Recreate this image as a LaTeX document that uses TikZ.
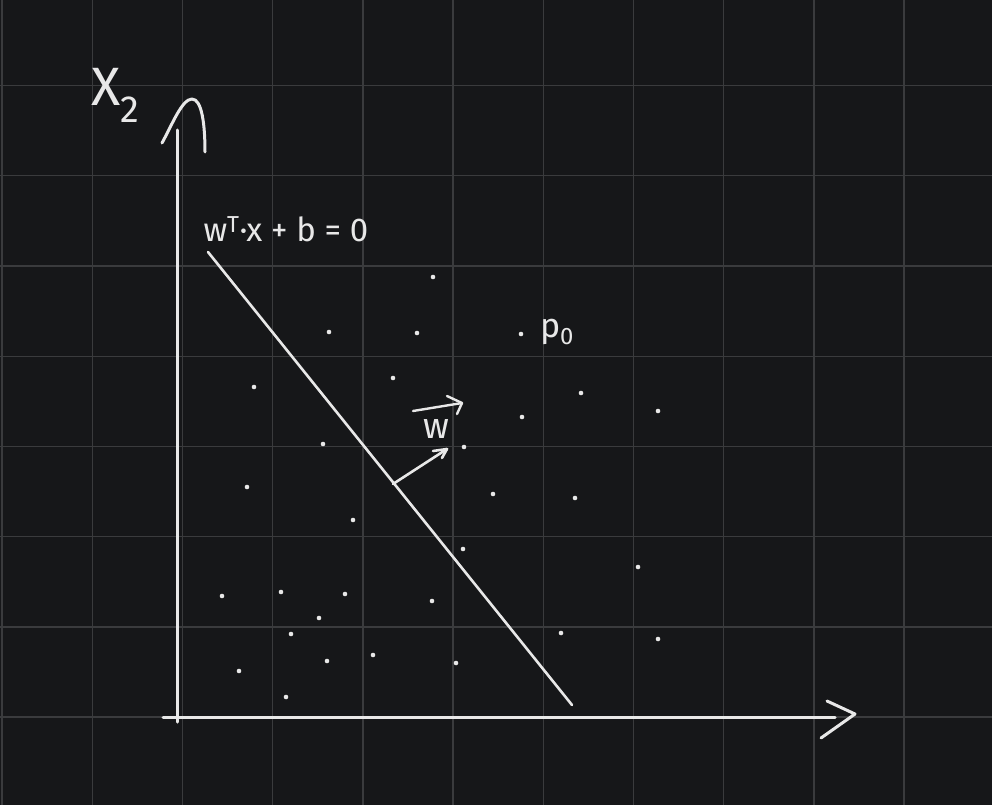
\documentclass[tikz,border=0pt]{standalone}
\usepackage{fontspec}
\setmainfont{Fira Sans}
\usepackage{xcolor}
\usepackage{tikz}
\usetikzlibrary{arrows.meta}
\definecolor{bgdark}{HTML}{161719}
\definecolor{gridgray}{HTML}{3A3B3D}
\definecolor{chalk}{HTML}{E8E8E8}

\tikzset{
  pen/.style={chalk, line width=3pt, line cap=round, line join=round},
  hand/.style={text=chalk, inner sep=0pt},
}

\begin{document}
\begin{tikzpicture}[x=1pt,y=-1pt]

  \def\gs{90.2}

  % fundo e grade
  \fill[bgdark] (0,0) rectangle (992,805);
  \useasboundingbox (0,0) rectangle (992,805);
  \foreach \i in {0,...,10}
    \draw[gridgray, line width=1.4pt] (2.1+\i*\gs,0) -- (2.1+\i*\gs,805);
  \foreach \j in {1,...,8}
    \draw[gridgray, line width=1.4pt] (0,-4.6+\j*\gs) -- (992,-4.6+\j*\gs);

  % eixos
  \coordinate (ybot) at (177,722);
  \coordinate (ytop) at (177,130);
  \coordinate (xleft) at (163,717);
  \coordinate (xright) at (835,717);
  \draw[pen] (ybot) -- (ytop);
  \draw[pen] (xleft) -- (xright);
  \draw[pen] (827,701) -- (855,714) -- (821,738);
  \draw[pen] (162,143) .. controls (172,125) and (182,99) .. (192,99)
             .. controls (202,99) and (205,125) .. (205,152);

  % hiperplano e vetor normal
  \coordinate (hypA) at (208,252);
  \coordinate (hypB) at (572,705);
  \draw[pen, line width=2.6pt] (hypA) -- (hypB);
  \coordinate (wbase) at (393,484);
  \coordinate (wtip) at (447,449);
  \draw[pen, line width=2.6pt] (wbase) -- (wtip);
  \draw[pen, line width=2.6pt] (433,451) -- (wtip) -- (442,458);

  % pontos
  \foreach \px/\py in {433/277, 329/332, 417/333, 521/334, 254/387, 393/378,
      581/393, 522/417, 658/411, 323/444, 464/447, 247/487, 493/494,
      575/498, 353/520, 463/549, 638/567, 222/596, 281/592, 345/594,
      319/618, 291/634, 432/601, 373/655, 327/661, 561/633, 658/639,
      456/663, 239/671, 286/697}
    \fill[chalk] (\px,\py) circle[radius=2.3];

  % rótulos
  \node[hand, font=\fontsize{54}{54}\selectfont] (x2lab) at (116,95) {X\textsubscript{2}};
  \node[hand, font=\fontsize{33}{33}\selectfont] (eqlab) at (286,229) {w\textsuperscript{T}·x + b = 0};
  \node[hand, font=\fontsize{36}{36}\selectfont] (wlab) at (436,429) {w};
  \coordinate (varrL) at (413,411);
  \coordinate (varrR) at (462,403);
  \draw[pen, line width=2.4pt] (varrL) -- (varrR);
  \draw[pen, line width=2.4pt] (447,396) -- (varrR) -- (457,414);
  \node[hand, font=\fontsize{34}{34}\selectfont] (p0lab) at (557,332) {p\textsubscript{0}};

\end{tikzpicture}
\end{document}
